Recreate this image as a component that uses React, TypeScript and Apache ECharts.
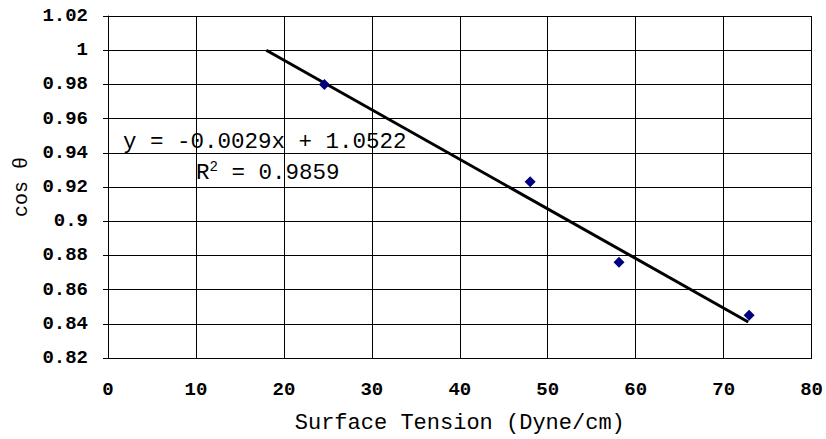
import React, { useEffect, useRef } from "react";
import * as echarts from "echarts";

const surfaceTension = [24.6, 48.0, 58.1, 72.9];
const cosTheta = [0.98, 0.923, 0.876, 0.845];
const trendSlope = -0.0029;
const trendIntercept = 1.0522;
const trendXRange = [18, 72.8];
const xTitle = "Surface Tension (Dyne/cm)";
const yTitle = "cos θ";
const eqText = "y = -0.0029x + 1.0522";
const r2Value = "0.9859";

const FONT = "Liberation Mono";

export default function App() {
  const ref = useRef<HTMLDivElement>(null);
  useEffect(() => {
    if (!ref.current) return;
    const chart = echarts.init(ref.current, undefined, { renderer: "svg" });
    const scatter = surfaceTension.map((x, i) => [x, cosTheta[i]]);
    const trend = trendXRange.map((x) => [x, trendIntercept + trendSlope * x]);
    chart.setOption({
      animation: false,
      backgroundColor: "#fff",
      grid: { left: 108, top: 16, right: 14, bottom: 78 },
      xAxis: {
        type: "value",
        min: 0,
        max: 80,
        interval: 10,
        axisLine: { show: true, lineStyle: { color: "#000", width: 1 } },
        axisTick: { show: false },
        splitLine: { show: true, lineStyle: { color: "#000", width: 1 } },
        axisLabel: {
          color: "#000",
          fontFamily: FONT,
          fontSize: 19,
          fontWeight: "bold",
          margin: 22,
        },
        name: xTitle,
        nameLocation: "middle",
        nameGap: 54,
        nameTextStyle: { color: "#000", fontFamily: FONT, fontSize: 22 },
      },
      yAxis: {
        type: "value",
        min: 0.82,
        max: 1.02,
        interval: 0.02,
        axisLine: { show: true, lineStyle: { color: "#000", width: 1 } },
        axisTick: { show: true, inside: false, length: 5, lineStyle: { color: "#000" } },
        splitLine: { show: true, lineStyle: { color: "#000", width: 1 } },
        axisLabel: {
          color: "#000",
          fontFamily: FONT,
          fontSize: 19,
          fontWeight: "bold",
          margin: 20,
          formatter: (v: number) => String(parseFloat(v.toFixed(2))),
        },
        name: yTitle,
        nameLocation: "middle",
        nameGap: 77,
        nameRotate: 90,
        nameTextStyle: { color: "#000", fontFamily: FONT, fontSize: 20 },
      },
      series: [
        {
          type: "line",
          data: trend,
          symbol: "none",
          lineStyle: { color: "#000", width: 3 },
          z: 2,
        },
        {
          type: "scatter",
          data: scatter,
          symbol: "diamond",
          symbolSize: 11,
          itemStyle: { color: "#000080", opacity: 1 },
          z: 3,
        },
      ],
      graphic: [
        {
          type: "text",
          left: 123,
          top: 130,
          style: { text: eqText, fontFamily: FONT, fontSize: 22.5, fill: "#000" },
        },
        {
          type: "text",
          left: 196,
          top: 160,
          style: {
            text: "{a|R}{s|2}{a| = " + r2Value + "}",
            fill: "#000",
            rich: {
              a: { fontFamily: FONT, fontSize: 22.5, fill: "#000", lineHeight: 26 },
              s: { fontFamily: FONT, fontSize: 14, fill: "#000", verticalAlign: "top", lineHeight: 26 },
            },
          },
        },
      ],
    });
    return () => chart.dispose();
  }, []);
  return <div ref={ref} style={{ width: 826, height: 439, position: "absolute", left: 0, top: 0 }} />;
}
